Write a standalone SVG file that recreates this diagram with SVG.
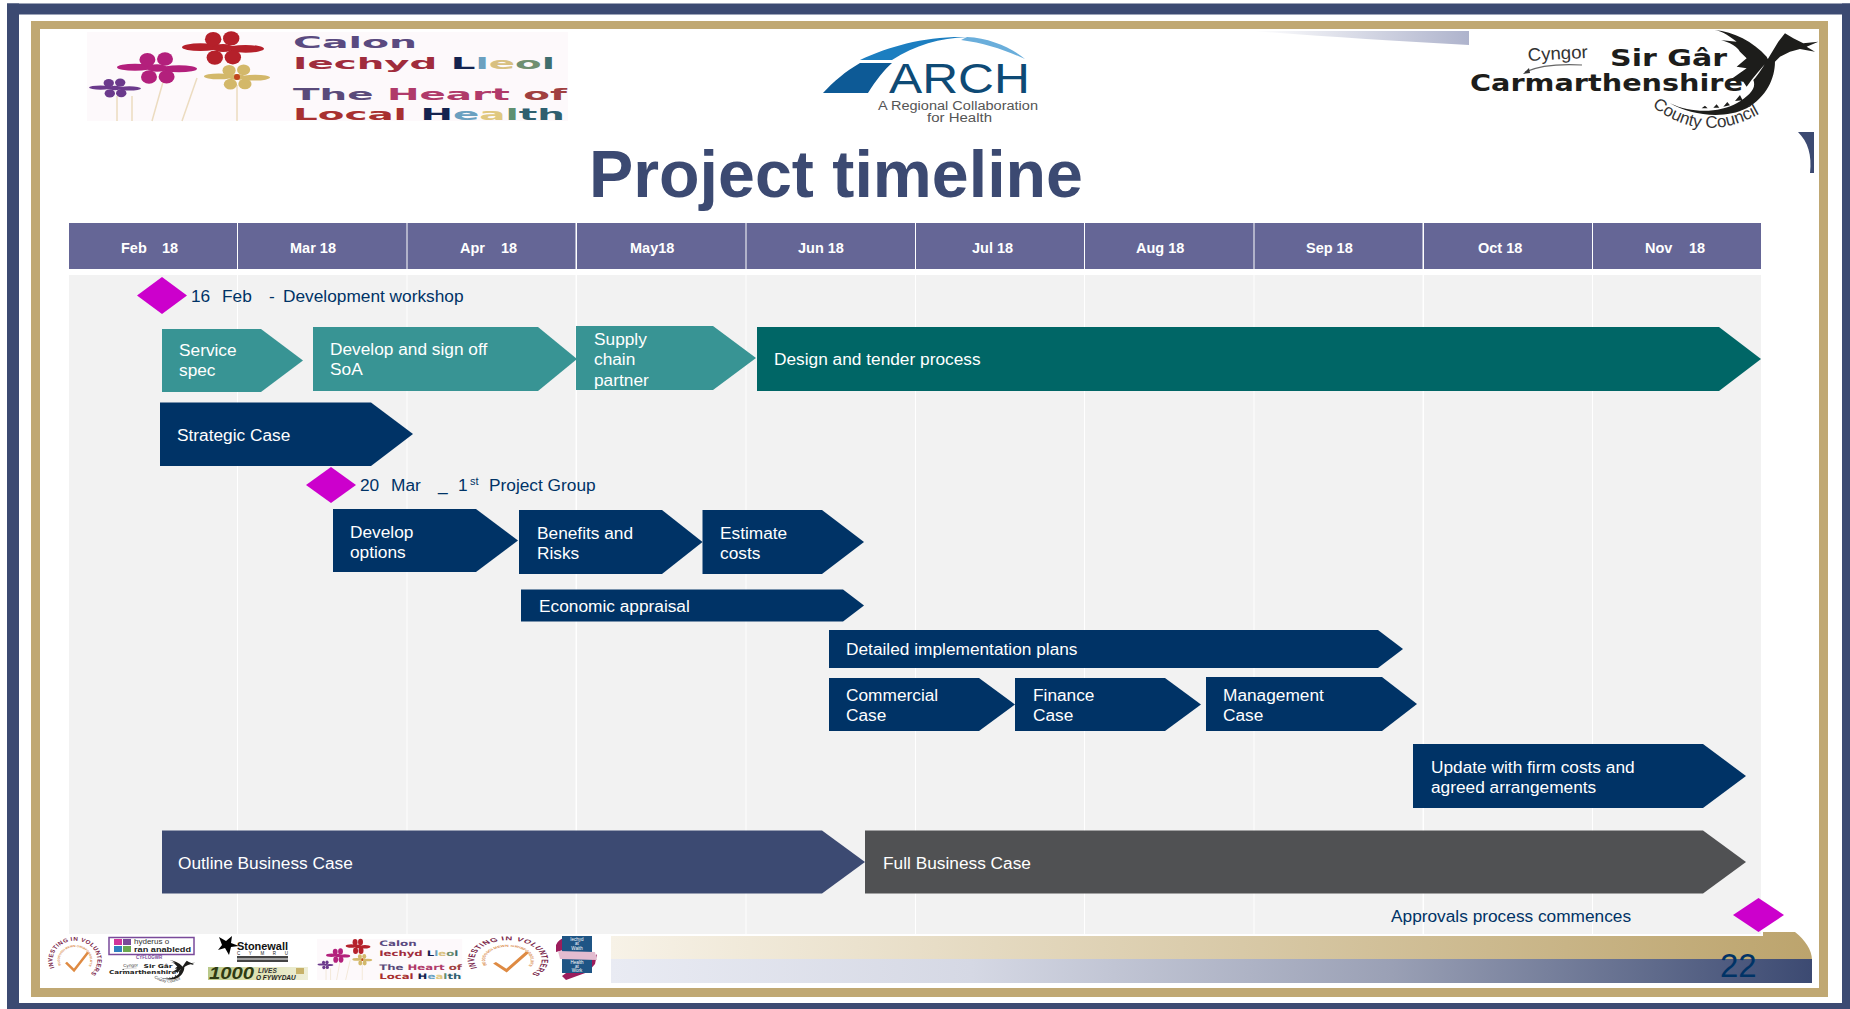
<svg xmlns="http://www.w3.org/2000/svg" width="1850" height="1009" viewBox="0 0 1850 1009">
<style>
text{font-family:"Liberation Sans",Arial,sans-serif}
.lab{font-size:17.3px;fill:#fff}
.ms{font-size:17.3px;fill:#003366}
.hd{font-size:14.5px;font-weight:bold;fill:#fff}
.hcell{fill:#656696}
.bcell{fill:#f2f2f2}
.teal{fill:#389494}
.dteal{fill:#006666}
.navy{fill:#003366}
.slate{fill:#3c4a72}
.grey{fill:#505153}
.dia{fill:#cc00cc}
.lg{font-family:"DejaVu Sans",sans-serif;font-weight:bold;font-size:16.5px}
.cm{font-family:"DejaVu Sans",sans-serif;font-weight:bold;font-size:23px;fill:#1d1d1b}
.stem{stroke:#ecdcc0;stroke-width:1.5;fill:none}
</style>
<defs>
<linearGradient id="gTan" x1="0" x2="1" y1="0" y2="0"><stop offset="0" stop-color="#f7f2e7"/><stop offset="1" stop-color="#bca46d"/></linearGradient>
<linearGradient id="gBlue" x1="0" x2="1" y1="0" y2="0"><stop offset="0" stop-color="#e9ebf3"/><stop offset=".3" stop-color="#d5d8e4"/><stop offset=".65" stop-color="#9aa0b5"/><stop offset="1" stop-color="#3c4a72"/></linearGradient>
<linearGradient id="gSliver" x1="0" x2="1" y1="0" y2="0"><stop offset="0" stop-color="#ffffff"/><stop offset="1" stop-color="#aeb3cc"/></linearGradient>
<linearGradient id="g1000" x1="0" x2="1" y1="0" y2="0"><stop offset="0" stop-color="#b9c98a"/><stop offset=".45" stop-color="#dfe2b0"/><stop offset="1" stop-color="#eeeed8"/></linearGradient>
<g id="petals">
<ellipse cx=".55" cy=".05" rx=".45" ry=".24"/>
<ellipse cx="-.55" cy="-.05" rx=".45" ry=".24"/>
<ellipse cx=".24" cy=".58" rx=".2" ry=".45"/>
<ellipse cx="-.2" cy=".6" rx=".2" ry=".45"/>
<ellipse cx=".2" cy="-.6" rx=".2" ry=".45"/>
<ellipse cx="-.24" cy="-.55" rx=".2" ry=".45"/>
<circle r=".25"/>
</g>
<g id="calon">
<rect x="87" y="32" width="481" height="89" fill="#fdf9fb"/>
<path class="stem" d="M117,96V121M132,96V121M152,121L163,82M182,121L197,78M237,85V121"/>
<use href="#petals" transform="translate(223,48) scale(41,16)" fill="#b5202a"/>
<use href="#petals" transform="translate(157,68) scale(40,15)" fill="#b3207c"/>
<use href="#petals" transform="translate(237,77) scale(33,12)" fill="#d3b86a"/>
<circle cx="237" cy="77" r="3" fill="#c2461e"/>
<use href="#petals" transform="translate(115,88) scale(26,9)" fill="#6b3a8c"/>
<text class="lg" x="293" y="48" textLength="124" lengthAdjust="spacingAndGlyphs" fill="#5a4a80">Calon</text>
<text class="lg" x="293" y="69" textLength="262" lengthAdjust="spacingAndGlyphs" fill="#a02c3c">Iechyd <tspan fill="#14234f">L</tspan><tspan fill="#6aa0c0">l</tspan><tspan fill="#d8c080">e</tspan><tspan fill="#6f8f70">o</tspan><tspan fill="#3f6f6f">l</tspan></text>
<text class="lg" x="293" y="100" textLength="274" lengthAdjust="spacingAndGlyphs" fill="#5a4a7a">The <tspan fill="#b03a6a">Heart</tspan> <tspan fill="#a04040">of</tspan></text>
<text class="lg" x="293" y="120" textLength="272" lengthAdjust="spacingAndGlyphs" fill="#a83030">Local <tspan fill="#14234f">H</tspan><tspan fill="#6aa0c0">e</tspan><tspan fill="#e0c880">a</tspan><tspan fill="#5f8f70">l</tspan><tspan fill="#2f5f6f">th</tspan></text>
</g>
<g id="carm">
<path fill="#1d1d1b" transform="translate(1460,25) scale(.3333)" d="M630 235C700 268 780 262 830 235C870 210 890 190 880 165C895 150 910 125 925 100L955 50L975 25L1000 40L1030 55L1075 50L1040 65L1065 80L1020 72L990 80L960 95L945 110C945 160 920 215 860 250C790 285 690 270 630 235ZM765 15C820 20 880 50 920 95L925 105C905 130 880 155 860 185L850 170L810 165L860 130L830 125L860 100L840 80C830 60 790 45 780 45L830 50C810 35 790 20 765 15ZM725 250l10 -8l8 8zM760 248l10 -10l8 10zM790 245l12 -14l8 10zM825 228l15 -18l8 16z"/>
<path d="M1525,72Q1545,63 1582,65" fill="none" stroke="#666" stroke-width="1.2"/>
<path d="M1523,74l6,-6l1,5z" fill="#333"/>
<text x="1528" y="61" font-size="18" fill="#333" transform="rotate(-3 1528 61)" textLength="60" lengthAdjust="spacingAndGlyphs">Cyngor</text>
<text class="cm" x="1610" y="66" textLength="117" lengthAdjust="spacingAndGlyphs">Sir Gâr</text>
<text class="cm" x="1470" y="91" textLength="273" lengthAdjust="spacingAndGlyphs">Carmarthenshire</text>
<path id="ccArc" d="M1652,106Q1708,150 1772,106" fill="none"/>
<text font-size="17" fill="#333"><textPath href="#ccArc">County Council</textPath></text>
</g>
<path id="inv1" d="M-20.5,9A22.4,22.4 0 1 1 4,22" fill="none"/>
<path id="inv2" d="M-14,6A15.2,15.2 0 1 1 4,14.700" fill="none"/>
<g id="invest">
<circle r="25" fill="#fff"/>
<text font-size="6.4" font-weight="bold" fill="#7a1f4a" letter-spacing=".4"><textPath href="#inv1">INVESTING IN VOLUNTEERS</textPath></text>
<text font-size="3.2" font-weight="bold" fill="#d98a4a"><textPath href="#inv2">BUDDSODDI MEWN GWIRFODDOLWYR</textPath></text>
<path d="M-9,3L-1,12L13,-9" fill="none" stroke="#de8a42" stroke-width="2.6"/>
</g>
</defs>

<g id="frame">
<rect width="1850" height="1009" fill="#fff"/>
<rect x="7" y="3.5" width="1843" height="11" class="slate"/>
<rect x="7" y="3.5" width="12" height="1005.5" class="slate"/>
<rect x="7" y="1003" width="1843" height="6" class="slate"/>
<rect x="1842" y="3.5" width="8" height="1005.5" class="slate"/>
<rect x="31" y="21" width="1797" height="976" fill="#c0a873"/>
<rect x="40" y="29" width="1779" height="959" fill="#fff"/>
<path d="M1252,31H1469V45C1390,41 1320,36 1252,31Z" fill="url(#gSliver)"/>
<path d="M1798,132H1814V173H1810C1812,155 1808,142 1798,132Z" class="slate"/>
</g>

<g id="footer-band">
<path d="M611,936H1763V932H1795C1805,940 1812,950 1812,960H611Z" fill="url(#gTan)"/>
<rect x="611" y="959" width="1201" height="24" fill="url(#gBlue)"/>
</g>

<g id="logo-calon"><use href="#calon"/></g>
<g id="logo-arch">
<path d="M823,93H868C876,80 884,70 892,63H860C846,71 833,82 823,93Z" fill="#0d5a96"/>
<path d="M860,60C890,46 925,36 967,37C940,38 915,45 892,60Z" fill="#1c7ec0"/>
<path d="M967,37C990,38 1012,48 1025,59C1005,50 985,43 961,40Z" fill="#6aaedb"/>
<text x="889" y="93" font-size="42" fill="#0e4a75" textLength="141" lengthAdjust="spacingAndGlyphs">ARCH</text>
<text x="878" y="110" font-size="12" fill="#555" textLength="160" lengthAdjust="spacingAndGlyphs">A Regional Collaboration</text>
<text x="927" y="122" font-size="12" fill="#555" textLength="65" lengthAdjust="spacingAndGlyphs">for Health</text>
</g>
<g id="logo-carmarthenshire"><use href="#carm"/></g>

<g id="title"><text x="589" y="197" font-size="66" font-weight="bold" fill="#3c4a72" textLength="494" lengthAdjust="spacingAndGlyphs">Project timeline</text></g>

<g id="timeline-grid">
<rect class="hcell" x="69" y="223" width="168" height="46"/><rect class="hcell" x="238" y="223" width="168.500" height="46"/><rect class="hcell" x="407.500" y="223" width="168" height="46"/><rect class="hcell" x="577" y="223" width="168.500" height="46"/><rect class="hcell" x="746.500" y="223" width="168.500" height="46"/><rect class="hcell" x="916" y="223" width="168" height="46"/><rect class="hcell" x="1085" y="223" width="168.500" height="46"/><rect class="hcell" x="1254.500" y="223" width="168" height="46"/><rect class="hcell" x="1424" y="223" width="168" height="46"/><rect class="hcell" x="1593" y="223" width="168" height="46"/>
<rect class="bcell" x="69" y="275" width="168" height="659"/><rect class="bcell" x="238" y="275" width="168.500" height="659"/><rect class="bcell" x="407.500" y="275" width="168" height="659"/><rect class="bcell" x="577" y="275" width="168.500" height="659"/><rect class="bcell" x="746.500" y="275" width="168.500" height="659"/><rect class="bcell" x="916" y="275" width="168" height="659"/><rect class="bcell" x="1085" y="275" width="168.500" height="659"/><rect class="bcell" x="1254.500" y="275" width="168" height="659"/><rect class="bcell" x="1424" y="275" width="168" height="659"/><rect class="bcell" x="1593" y="275" width="168" height="659"/>
<text class="hd" x="121" y="253">Feb<tspan x="162">18</tspan></text>
<text class="hd" x="290" y="253">Mar 18</text>
<text class="hd" x="460" y="253">Apr<tspan x="501">18</tspan></text>
<text class="hd" x="630" y="253">May18</text>
<text class="hd" x="798" y="253">Jun 18</text>
<text class="hd" x="972" y="253">Jul 18</text>
<text class="hd" x="1136" y="253">Aug 18</text>
<text class="hd" x="1306" y="253">Sep 18</text>
<text class="hd" x="1478" y="253">Oct 18</text>
<text class="hd" x="1645" y="253">Nov<tspan x="1689">18</tspan></text>
</g>

<g id="connectors"></g>

<g id="m-dev-workshop"><path class="dia" d="M162,277L187,295.500L162,314L137,295.500Z"/>
<text class="ms" x="191" y="302">16<tspan x="222">Feb</tspan><tspan x="269">-</tspan><tspan x="283">Development workshop</tspan></text></g>
<g id="n-service-spec"><path class="teal" d="M162,329H261L303,360.500L261,392H162Z"/><text class="lab" x="179" y="356.300">Service</text><text class="lab" x="179" y="376.300">spec</text></g>
<g id="n-develop-soa"><path class="teal" d="M313,327H538L577,359L538,391H313Z"/><text class="lab" x="330" y="355.300">Develop and sign off</text><text class="lab" x="330" y="375.300">SoA</text></g>
<g id="n-supply-chain"><path class="teal" d="M576,326H713L756,358L713,390H576Z"/><text class="lab" x="594" y="345">Supply</text><text class="lab" x="594" y="365">chain</text><text class="lab" x="594" y="386">partner</text></g>
<g id="n-design-tender"><path class="dteal" d="M757,327H1719L1761,359L1719,391H757Z"/><text class="lab" x="774" y="365.300">Design and tender process</text></g>
<g id="n-strategic-case"><path class="navy" d="M160,402.500H371L413,434L371,466H160Z"/><text class="lab" x="177" y="441.300">Strategic Case</text></g>
<g id="m-project-group"><path class="dia" d="M331,467L356,485L331,503L306,485Z"/>
<text class="ms" x="360" y="491.300">20<tspan x="391">Mar</tspan><tspan x="438">_</tspan><tspan x="458">1</tspan><tspan x="470" y="484.500" font-size="11">st</tspan><tspan x="489" y="491.300">Project Group</tspan></text></g>
<g id="n-develop-options"><path class="navy" d="M333,509H476L518,540.500L476,572H333Z"/><text class="lab" x="350" y="538">Develop</text><text class="lab" x="350" y="557.500">options</text></g>
<g id="n-benefits-risks"><path class="navy" d="M519,510H662L702.500,542L662,574H519Z"/><text class="lab" x="537" y="539.300">Benefits and</text><text class="lab" x="537" y="559.300">Risks</text></g>
<g id="n-estimate-costs"><path class="navy" d="M702.500,510H822L864,542L822,574H702.500Z"/><text class="lab" x="720" y="539.300">Estimate</text><text class="lab" x="720" y="559.300">costs</text></g>
<g id="n-economic-appraisal"><path class="navy" d="M521,589.500H843L864,605.500L843,621.500H521Z"/><text class="lab" x="539" y="612">Economic appraisal</text></g>
<g id="n-detailed-plans"><path class="navy" d="M829,630H1378L1403,649L1378,668H829Z"/><text class="lab" x="846" y="655.300">Detailed implementation plans</text></g>
<g id="n-commercial-case"><path class="navy" d="M829,678H979L1015,704.500L979,731H829Z"/><text class="lab" x="846" y="701.300">Commercial</text><text class="lab" x="846" y="721.300">Case</text></g>
<g id="n-finance-case"><path class="navy" d="M1015,678H1165L1201,704.500L1165,731H1015Z"/><text class="lab" x="1033" y="701.300">Finance</text><text class="lab" x="1033" y="721.300">Case</text></g>
<g id="n-management-case"><path class="navy" d="M1206,677H1382L1417,704L1382,731H1206Z"/><text class="lab" x="1223" y="701.300">Management</text><text class="lab" x="1223" y="721.300">Case</text></g>
<g id="n-update-costs"><path class="navy" d="M1413,744H1703L1746,776L1703,808H1413Z"/><text class="lab" x="1431" y="773.300">Update with firm costs and</text><text class="lab" x="1431" y="793.300">agreed arrangements</text></g>
<g id="n-outline-bc"><path class="slate" d="M162,830.500H822L865,862L822,893.500H162Z"/><text class="lab" x="178" y="869">Outline Business Case</text></g>
<g id="n-full-bc"><path class="grey" d="M865,830.500H1703L1746,862L1703,893.500H865Z"/><text class="lab" x="883" y="869">Full Business Case</text></g>
<g id="m-approvals"><path class="dia" d="M1758.500,898L1784,915L1758.500,932L1733,915Z"/><text class="ms" x="1391" y="922">Approvals process commences</text></g>
<g id="page-number"><text x="1720" y="977" font-size="33" fill="#003366">22</text></g>

<g id="footer-logos">
<use href="#invest" transform="translate(75,960) scale(1,.86)"/>
<g id="logo-hyderus">
<rect x="109" y="937.500" width="85" height="17" fill="#fff" stroke="#7a4a9a" stroke-width="1.500"/>
<rect x="114" y="939" width="8" height="6" fill="#d0359a"/><rect x="123" y="939" width="8" height="6" fill="#7a4a9a"/>
<rect x="114" y="946" width="8" height="6" fill="#2f7fbf"/><rect x="123" y="946" width="8" height="6" fill="#6aa84f"/>
<text x="134" y="944" font-size="8" fill="#333">hyderus o</text>
<text x="134" y="951.500" font-size="8" font-weight="bold" fill="#222" textLength="57" lengthAdjust="spacingAndGlyphs">ran anabledd</text>
<text x="136" y="958.500" font-size="4.500" font-weight="bold" fill="#7a4a9a">CYFLOGWR</text>
</g>
<use href="#carm" transform="matrix(.247 0 0 .23 -254.100 953.100)"/>
<g id="logo-stonewall">
<path d="M219,937L226,941L232,936L231,943L239,946L231,947L229,955L225,948L218,950L222,945Z" fill="#000"/>
<text x="237" y="950" font-size="11" font-weight="bold" fill="#111" textLength="51" lengthAdjust="spacingAndGlyphs">Stonewall</text>
<text x="237" y="955" font-size="4.500" fill="#222" textLength="51">C Y M R U</text>
<rect x="237" y="956" width="51" height="2.500" fill="#444"/><rect x="237" y="959.500" width="51" height="2.500" fill="#444"/>
</g>
<g id="logo-1000-lives">
<rect x="208" y="967" width="100" height="13" fill="url(#g1000)"/>
<text x="209" y="979" font-size="16" font-weight="bold" font-style="italic" fill="#2f3b12" textLength="45" lengthAdjust="spacingAndGlyphs">1000</text>
<text x="258" y="973" font-size="6.500" font-weight="bold" font-style="italic" fill="#333">LIVES</text>
<text x="256" y="979.500" font-size="6.500" font-weight="bold" font-style="italic" fill="#222">O FYWYDAU</text>
<rect x="296" y="968" width="8" height="6" fill="#c7b26a"/>
</g>
<use href="#calon" transform="matrix(.302 0 0 .46 290.700 924.300)"/>
<use href="#invest" transform="translate(508,960) scale(1.500,.88)"/>
<g id="logo-iechyd-work">
<path d="M556,945C558,941 560,939 564,938L566,942L563,950L556,952ZM570,970L590,962L597,954L595,964L588,972L566,980L562,976Z" fill="#9c1d5c"/>
<rect x="562" y="936" width="30" height="37" fill="#1f5585"/>
<path d="M558,951L595,952L597,960L560,959Z" fill="#e3bcd0"/>
<text x="577" y="941" font-size="4.500" fill="#fff" text-anchor="middle">Iechyd</text>
<text x="577" y="945" font-size="4.500" fill="#fff" text-anchor="middle">at</text>
<text x="577" y="949.500" font-size="4.500" fill="#fff" text-anchor="middle">Waith</text>
<text x="577" y="964" font-size="4.500" fill="#fff" text-anchor="middle">Health</text>
<text x="577" y="968" font-size="4.500" fill="#fff" text-anchor="middle">at</text>
<text x="577" y="972" font-size="4.500" fill="#fff" text-anchor="middle">Work</text>
</g>
</g>
</svg>
